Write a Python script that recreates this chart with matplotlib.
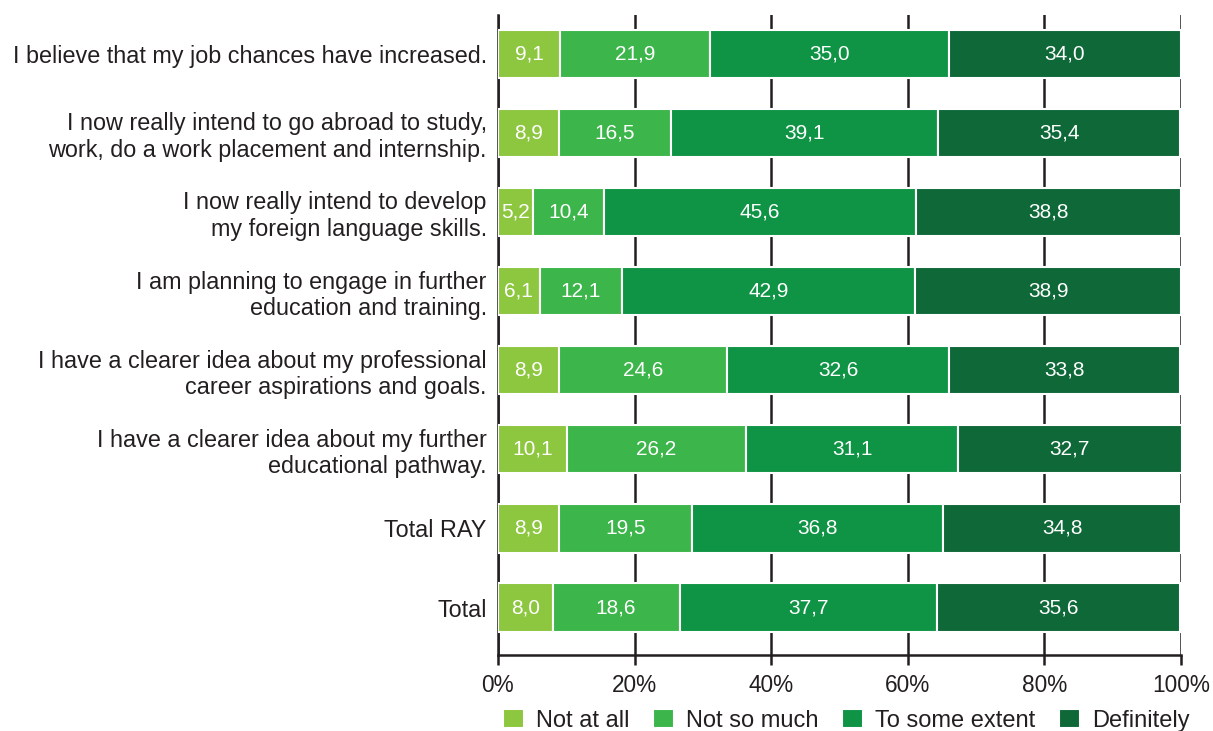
import numpy as np
import matplotlib
matplotlib.use("Agg")
import matplotlib.pyplot as plt

plt.rcParams['font.family'] = ['Liberation Sans', 'DejaVu Sans']
plt.rcParams['text.color'] = '#231f20'
plt.rcParams['xtick.color'] = '#231f20'
plt.rcParams['ytick.color'] = '#231f20'

categories = [
    "I believe that my job chances have increased.",
    "I now really intend to go abroad to study,\nwork, do a work placement and internship.",
    "I now really intend to develop\nmy foreign language skills.",
    "I am planning to engage in further\neducation and training.",
    "I have a clearer idea about my professional\ncareer aspirations and goals.",
    "I have a clearer idea about my further\neducational pathway.",
    "Total RAY",
    "Total",
]
not_at_all = [9.1, 8.9, 5.2, 6.1, 8.9, 10.1, 8.9, 8.0]
not_so_much = [21.9, 16.5, 10.4, 12.1, 24.6, 26.2, 19.5, 18.6]
to_some_extent = [35.0, 39.1, 45.6, 42.9, 32.6, 31.1, 36.8, 37.7]
definitely = [34.0, 35.4, 38.8, 38.9, 33.8, 32.7, 34.8, 35.6]

series = ["Not at all", "Not so much", "To some extent", "Definitely"]
colors = ["#8dc63f", "#3cb54a", "#0e9444", "#0e6838"]

fig = plt.figure(figsize=(12.13, 7.31), dpi=100)
ax = fig.add_axes([0.4105, 0.104, 0.563, 0.8755])

y = np.arange(len(categories))
left = np.zeros(len(categories))
data = [not_at_all, not_so_much, to_some_extent, definitely]
for name, vals, col in zip(series, data, colors):
    vals = np.array(vals)
    bars = ax.barh(y, vals, left=left, height=0.61, color=col,
                   edgecolor="white", linewidth=1.5, label=name, zorder=3)
    for b, v in zip(bars, vals):
        ax.text(b.get_x() + b.get_width() / 2, b.get_y() + b.get_height() / 2,
                f"{v:.1f}".replace(".", ","), ha="center", va="center",
                color="white", fontsize=15, zorder=4)
    left += vals

ax.set_xlim(0, 100)
ax.set_ylim(len(categories) - 1 + 0.6, -0.49)
ax.set_xticks([0, 20, 40, 60, 80, 100])
ax.set_xticklabels([f"{t}%" for t in range(0, 101, 20)], fontsize=16.3)
ax.xaxis.grid(True, color="#231f20", linewidth=1.8, zorder=0)
ax.set_axisbelow(True)
ax.tick_params(axis="x", length=7, width=1.8, color="#231f20", pad=7)
ax.tick_params(axis="y", length=0, pad=8)
ax.set_yticks(y)
ax.set_yticklabels(categories, fontsize=16.8, linespacing=1.2)

for s in ["top", "right"]:
    ax.spines[s].set_visible(False)
for s in ["left", "bottom"]:
    ax.spines[s].set_color("#231f20")
    ax.spines[s].set_linewidth(1.8)
ax.spines["bottom"].set_zorder(5)

ax.legend(loc="upper center", bbox_to_anchor=(0.51, -0.084), ncol=4,
          frameon=False, fontsize=17, handlelength=0.9, handleheight=0.9,
          handletextpad=0.5, columnspacing=1.0, borderaxespad=0,
          borderpad=0)

fig.savefig("out.png", dpi=100)
